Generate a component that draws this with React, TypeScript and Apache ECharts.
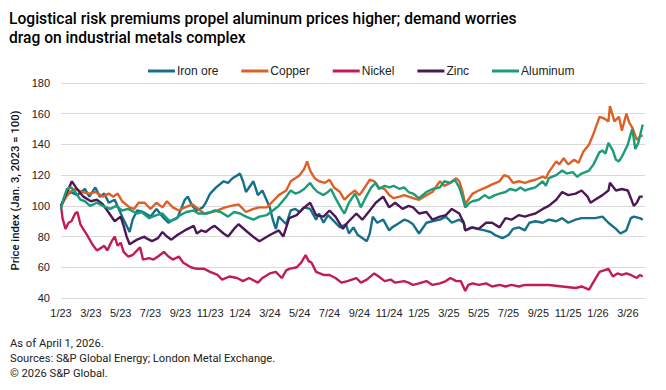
import React, { useEffect, useRef } from "react";
import * as echarts from "echarts";

// x = months since Jan. 1, 2023; y = price index (Jan. 3, 2023 = 100)
const ironOre: [number, number][] = [
  [0,100],[0.3,106],[0.65,109],[1.1,107],[1.6,111],[1.9,106],[2.3,112],[2.6,106],[2.9,108],[3.2,102],[3.6,104],[4.1,93],[4.6,83],[4.8,91],[5.1,97],[5.5,96],[6,93],[6.4,98],[6.8,93],[7.2,89],[7.5,91],[7.8,92],[8.3,104],[8.5,106],[8.8,100],[9.1,97],[9.5,99],[9.7,102],[10,108],[10.4,112],[10.9,116],[11.2,115],[11.5,118],[12,121],[12.2,116],[12.4,109],[12.9,116],[13.2,107],[13.5,110],[14,99],[14.2,91],[14.4,85],[14.6,93],[15.1,88],[15.4,97],[15.7,98],[16,96],[16.3,99],[16.7,98],[17.1,91],[17.3,95],[17.6,89],[17.9,94],[18.2,91],[18.7,86],[19.1,88],[19.3,82],[19.6,86],[19.9,81],[20.2,79],[20.5,77],[20.7,82],[20.9,93],[21.2,89],[21.6,91],[22,84],[22.2,86],[22.7,89],[23,91],[23.3,90],[23.6,88],[24,82],[24.5,89],[24.9,90],[25.4,91],[25.8,93],[26.2,89],[26.7,91],[27,89],[27.1,84],[27.5,86],[27.9,85],[28.4,84],[28.8,83],[29.1,81],[29.6,79],[30,81],[30.3,85],[30.7,86],[31.1,84],[31.4,89],[31.8,90],[32.3,89],[32.7,91],[33.2,90],[33.6,92],[34,89],[34.5,91],[34.9,92],[35.4,92],[35.8,92],[36.3,93],[36.7,89],[37.2,85],[37.5,82],[37.9,84],[38.2,92],[38.4,93],[38.8,92],[39,91],
];
const copper: [number, number][] = [
  [0,100],[0.3,105],[0.55,109],[1,111],[1.4,109],[1.9,108],[2.3,109],[2.8,106],[3.2,108],[3.5,106],[3.8,108],[4.1,103],[4.6,99],[4.9,98],[5.2,102],[5.6,102],[6,98],[6.4,102],[6.8,99],[7.1,103],[7.5,99],[7.9,97],[8.3,99],[8.8,101],[9.2,98],[9.6,95],[10.1,96],[10.5,97],[11,99],[11.4,100],[11.9,101],[12.4,96],[12.9,98],[13.3,99],[13.8,99],[14.2,103],[14.6,107],[15.1,110],[15.4,116],[15.7,118],[16,120],[16.3,124],[16.5,129],[16.7,123],[17,118],[17.3,116],[17.7,115],[18,117],[18.3,112],[18.7,109],[19,104],[19.3,107],[19.7,110],[20,107],[20.3,111],[20.7,117],[21,116],[21.3,112],[21.7,111],[22,107],[22.3,105],[22.7,106],[23,107],[23.3,106],[23.6,105],[24,104],[24.5,107],[24.9,109],[25.4,116],[25.7,113],[26.1,115],[26.5,118],[26.7,116],[26.9,110],[27.1,101],[27.3,104],[27.6,108],[28,110],[28.5,112],[28.9,114],[29.4,116],[29.7,120],[30,119],[30.3,115],[30.7,116],[31.1,115],[31.4,116],[31.8,117],[32.3,119],[32.5,118],[32.7,122],[33.2,129],[33.4,127],[33.7,131],[34,127],[34.4,130],[34.7,128],[35,135],[35.4,140],[35.7,147],[36.1,158],[36.4,157],[36.7,155],[36.8,165],[37.1,155],[37.4,158],[37.6,149],[37.9,160],[38.1,154],[38.3,151],[38.6,143],[38.8,145],[39,146],
];
const nickel: [number, number][] = [
  [0,100],[0.1,92],[0.3,85],[0.5,89],[0.7,90],[0.95,95],[1.1,96],[1.3,88],[1.75,81],[2.1,75],[2.4,71],[2.6,72],[2.9,74],[3.1,71],[3.4,77],[3.6,80],[3.8,74],[4,76],[4.2,70],[4.5,67],[4.8,68],[5.1,71],[5.3,73],[5.5,65],[5.9,66],[6.2,65],[6.5,67],[6.9,70],[7.2,67],[7.5,65],[7.9,67],[8.2,63],[8.7,60],[9.1,59],[9.6,59],[10,57],[10.5,55],[10.8,52],[11.3,54],[11.8,53],[12.2,51],[12.6,53],[13.2,50],[13.5,53],[14,56],[14.4,57],[14.8,53],[15.1,58],[15.3,59],[15.8,60],[16.1,63],[16.4,68],[16.6,64],[16.8,63],[17.1,57],[17.6,55],[18,55],[18.4,53],[18.8,50],[19.2,51],[19.8,53],[20.1,50],[20.5,52],[21,56],[21.3,54],[21.7,51],[22.1,52],[22.4,50],[23,51],[23.3,50],[23.6,48.5],[24,49.5],[24.5,51],[24.9,48.5],[25.4,49.5],[25.8,51],[26.1,53],[26.5,51],[26.8,51],[27.1,44.5],[27.3,48.5],[27.6,49.5],[28,48.5],[28.5,49.5],[28.9,47.5],[29.4,48.5],[29.8,47.5],[30.2,48.5],[30.7,47.5],[31.1,48.5],[31.8,48.5],[32.7,48.5],[33.6,47.5],[34.5,46.5],[34.9,47.5],[35.4,45.5],[35.7,50.5],[36.1,57],[36.4,58],[36.7,59],[37,54],[37.3,56],[37.6,55],[37.9,56],[38.2,55],[38.6,53],[38.8,55],[39,54],
];
const zinc: [number, number][] = [
  [0,100],[0.3,107],[0.5,111],[0.73,116],[1,112],[1.5,106],[2,103],[2.4,104],[2.8,101],[3.1,97],[3.6,90],[4,93],[4.2,87],[4.4,80],[4.6,75],[5.1,78],[5.6,80],[5.7,79],[6.1,77],[6.5,79],[6.8,83],[7.1,80],[7.4,78],[7.8,81],[8.3,84],[8.9,87],[9.1,82],[9.4,84],[9.7,83],[10.1,86],[10.3,87],[10.9,82],[11.2,80],[11.6,85],[11.9,88],[12.5,83],[13,79],[13.3,77],[14,81],[14.6,84],[14.9,80],[15.3,92],[15.8,94],[16.2,98],[16.7,102],[17.1,94],[17.6,93],[18,97],[18.4,93],[18.9,85],[19.2,89],[19.8,95],[20.2,91],[20.7,97],[21.1,102],[21.6,106],[22,99],[22.4,102],[22.9,98],[23.3,100],[23.6,99],[24,95],[24.5,96],[24.9,91],[25.4,93],[25.8,94],[26.2,98],[26.7,95],[27,89],[27.1,84],[27.6,86],[28,85],[28.5,89],[28.9,89],[29.4,86],[29.8,92],[30.2,91],[30.7,94],[31.1,93],[31.4,94],[31.8,95],[32.3,98],[32.7,100],[33.2,104],[33.6,109],[34,107],[34.5,108],[34.9,110],[35.3,106],[35.5,102],[35.8,104],[36.3,107],[36.7,110],[36.8,115],[37.2,110],[37.6,111],[38,110],[38.4,100],[38.6,102],[38.8,106],[39,106],
];
const aluminum: [number, number][] = [
  [0,98],[0.15,104],[0.4,111],[0.7,112],[0.95,109],[1.3,104],[1.6,103],[1.95,100],[2.4,102],[2.8,100],[3.3,98],[3.7,100],[4.1,97],[4.5,98],[5.1,95],[5.4,96],[5.9,92],[6.4,94],[6.8,95],[7.3,90],[7.6,91],[8,94],[8.4,96],[8.9,97],[9.2,95],[9.8,95],[10.3,97],[10.7,96],[11.2,93],[11.6,96],[12,95],[12.4,93],[12.9,91],[13.3,93],[13.8,94],[14.2,97],[14.6,100],[15.1,106],[15.4,110],[15.7,108],[16,109],[16.3,111],[16.7,115],[16.9,112],[17.2,109],[17.6,107],[17.9,109],[18.1,111],[18.4,105],[18.8,98],[19,95],[19.3,102],[19.7,108],[19.9,104],[20.1,99],[20.4,105],[20.8,112],[21.1,115],[21.3,111],[21.7,113],[22,112],[22.3,113],[22.7,111],[23,112],[23.3,109],[23.6,108],[24,105],[24.5,109],[24.9,111],[25.4,112],[25.7,116],[26.1,115],[26.4,117],[26.7,112],[26.9,106],[27.1,99],[27.4,102],[27.6,103],[28,104],[28.4,107],[28.7,105],[29.1,107],[29.4,108],[29.8,109],[30.1,111],[30.5,110],[30.8,112],[31.1,110],[31.4,111],[31.8,112],[32.3,116],[32.5,113],[32.7,118],[33.2,120],[33.6,123],[33.9,121],[34.3,122],[34.6,119],[34.9,121],[35.4,123],[35.7,127],[36.1,135],[36.3,136],[36.5,134],[36.7,141],[37,136],[37.2,130],[37.4,129],[37.6,132],[38,140],[38.2,147],[38.3,150],[38.5,137],[38.7,141],[39,153],
];

const seriesNames = ["Iron ore", "Copper", "Nickel", "Zinc", "Aluminum"];
const seriesColors = ["#16708c", "#dd6126", "#c21d50", "#4d1856", "#1b9c78"];
const tickLabels = [
  "1/23","3/23","5/23","7/23","9/23","11/23",
  "1/24","3/24","5/24","7/24","9/24","11/24",
  "1/25","3/25","5/25","7/25","9/25","11/25",
  "1/26","3/26",
];
const titleText = "Logistical risk premiums propel aluminum prices higher; demand worries\ndrag on industrial metals complex";
const yAxisName = "Price index (Jan. 3, 2023 = 100)";
const footnotes = [
  "As of April 1, 2026.",
  "Sources: S&P Global Energy; London Metal Exchange.",
  "\u00a9 2026 S&P Global.",
];

const ROBOTO = "Roboto, 'Noto Sans', sans-serif";
const ARIAL = "'Liberation Sans', Arial, sans-serif";

export default function App() {
  const ref = useRef<HTMLDivElement>(null);
  useEffect(() => {
    document.body.style.margin = "0";
    if (!ref.current) return;
    const chart = echarts.init(ref.current, undefined, { renderer: "svg" });
    const data = [ironOre, copper, nickel, zinc, aluminum];
    chart.setOption({
      animation: false,
      backgroundColor: "#ffffff",
      textStyle: { fontFamily: ROBOTO },
      legend: {
        top: 65,
        left: 148,
        padding: 0,
        itemWidth: 27,
        itemHeight: 3,
        itemGap: 23,
        icon: "rect",
        textStyle: { fontFamily: ARIAL, fontSize: 12, color: "#222", padding: [0, 0, 0, -3] },
        data: seriesNames,
      },
      grid: { left: 61, right: 21, top: 83, bottom: 92, containLabel: false },
      xAxis: {
        type: "value",
        min: 0,
        max: 39.15,
        interval: 2,
        axisLine: { show: false },
        axisTick: { show: false },
        splitLine: { show: false },
        axisLabel: {
          fontFamily: ARIAL,
          fontSize: 11,
          color: "#222",
          margin: 9,
          showMaxLabel: false,
          formatter: (v: number) => {
            const i = Math.round(v / 2);
            return Math.abs(v - i * 2) < 1e-6 && i < tickLabels.length ? tickLabels[i] : "";
          },
        },
      },
      yAxis: {
        type: "value",
        min: 40,
        max: 180,
        interval: 20,
        name: yAxisName,
        nameLocation: "middle",
        nameGap: 31,
        nameTextStyle: { fontFamily: ROBOTO, fontSize: 11.3, fontWeight: 500, color: "#111" },
        axisLine: { show: false },
        axisTick: { show: false },
        axisLabel: { fontFamily: ARIAL, fontSize: 11, color: "#222", margin: 11 },
        splitLine: { lineStyle: { color: "#d9d9d9", width: 1 } },
      },
      series: data.map((d, i) => ({
        name: seriesNames[i],
        type: "line",
        data: d,
        showSymbol: false,
        symbol: "none",
        color: seriesColors[i],
        lineStyle: { width: 2.4, color: seriesColors[i] },
        z: 2 + i,
      })),
      graphic: [
        {
          type: "text",
          x: 9,
          y: 9,
          scaleX: 0.947,
          style: {
            text: titleText,
            fontFamily: ROBOTO,
            fontSize: 16.5,
            fontWeight: 500,
            lineHeight: 19,
            fill: "#000",
            verticalAlign: "top",
          },
        },
        ...footnotes.map((t, i) => ({
          type: "text",
          x: 10,
          y: 343 + i * 15,
          style: { text: t, fontFamily: ROBOTO, fontSize: 11.2, fill: "#222", verticalAlign: "middle" },
        })),
      ],
    });
    return () => chart.dispose();
  }, []);
  return <div ref={ref} style={{ width: 666, height: 390 }} />;
}
